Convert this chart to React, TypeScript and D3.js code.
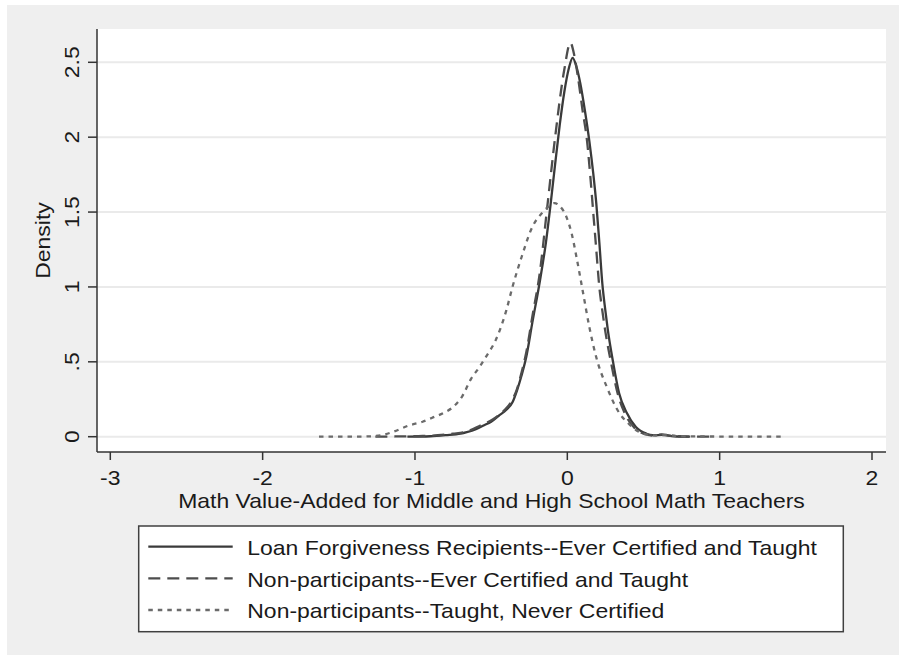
import React from "react";
import * as d3 from "d3";

// ---- Data ----
const X_TICKS = [-3, -2, -1, 0, 1, 2];
const Y_TICKS = [0, 0.5, 1, 1.5, 2, 2.5];
const Y_TICK_LABELS = ["0", ".5", "1", "1.5", "2", "2.5"];

const SERIES_NAMES = [
  "Loan Forgiveness Recipients--Ever Certified and Taught",
  "Non-participants--Ever Certified and Taught",
  "Non-participants--Taught, Never Certified",
];

// Loan forgiveness recipients (solid)
const recipX = [-1.05, -0.9, -0.8, -0.7, -0.66, -0.6, -0.55, -0.5, -0.45, -0.4, -0.36, -0.33, -0.3, -0.27, -0.23, -0.18, -0.14, -0.11, -0.08, -0.05, -0.02, 0.01, 0.035, 0.06, 0.085, 0.115, 0.145, 0.17, 0.19, 0.21, 0.23, 0.25, 0.265, 0.3, 0.34, 0.39, 0.45, 0.52, 0.56, 0.62, 0.7, 0.8];
const recipY = [0, 0.003, 0.01, 0.02, 0.03, 0.05, 0.075, 0.1, 0.14, 0.18, 0.23, 0.31, 0.41, 0.53, 0.76, 1.04, 1.3, 1.55, 1.82, 2.08, 2.3, 2.46, 2.53, 2.47, 2.36, 2.18, 1.97, 1.76, 1.56, 1.3, 1.02, 0.84, 0.72, 0.5, 0.29, 0.16, 0.065, 0.02, 0.01, 0.012, 0.003, 0];

// Non-participants, ever certified and taught (dashed)
const certX = [-1.26, -1.1, -0.95, -0.85, -0.75, -0.66, -0.58, -0.49, -0.42, -0.37, -0.33, -0.3, -0.27, -0.23, -0.18, -0.13, -0.08, -0.02, 0.02, 0.045, 0.07, 0.1, 0.13, 0.15, 0.17, 0.19, 0.21, 0.23, 0.25, 0.29, 0.33, 0.38, 0.44, 0.5, 0.56, 0.62, 0.68, 0.8, 0.93];
const certY = [0, 0.002, 0.005, 0.01, 0.02, 0.035, 0.07, 0.115, 0.17, 0.23, 0.32, 0.43, 0.56, 0.8, 1.1, 1.55, 2.0, 2.45, 2.63, 2.55, 2.4, 2.18, 1.97, 1.75, 1.5, 1.25, 1.0, 0.84, 0.7, 0.48, 0.29, 0.15, 0.06, 0.02, 0.008, 0.015, 0.006, 0.001, 0];

// Non-participants, taught, never certified (dotted)
const neverX = [-1.63, -1.45, -1.3, -1.22, -1.15, -1.04, -0.95, -0.89, -0.8, -0.76, -0.69, -0.63, -0.58, -0.53, -0.47, -0.4, -0.36, -0.3, -0.23, -0.16, -0.12, -0.085, -0.05, -0.007, 0.03, 0.06, 0.1, 0.145, 0.19, 0.26, 0.34, 0.4, 0.45, 0.52, 0.58, 0.65, 0.72, 0.85, 1.0, 1.2, 1.43];
const neverY = [0, 0, 0.002, 0.01, 0.03, 0.075, 0.1, 0.125, 0.165, 0.19, 0.27, 0.39, 0.46, 0.54, 0.645, 0.845, 1.0, 1.2, 1.4, 1.5, 1.54, 1.56, 1.54, 1.47, 1.35, 1.2, 0.98, 0.73, 0.53, 0.33, 0.16, 0.09, 0.045, 0.015, 0.008, 0.012, 0.004, 0.002, 0.001, 0, 0];

// ---- Layout / style ----
const W = 899;
const H = 658;
const PLOT = { left: 97, right: 886, top: 29, bottom: 452 };
const FONT = "'Liberation Sans', Arial, Helvetica, sans-serif";
const FS = 20.5;
const SX = 1.12;

const STYLES = [
  { color: "#3a3a3a", dash: "none", width: 2.3 },
  { color: "#4d4d4d", dash: "12,7", width: 2.3 },
  { color: "#6b6b6b", dash: "4.5,5", width: 2.3 },
];

const xScale = d3.scaleLinear().domain([-3, 2]).range([110.3, 872]);
const yScale = d3.scaleLinear().domain([0, 2.5]).range([436.7, 62.3]);

const line = d3
  .line<[number, number]>()
  .x((d) => xScale(d[0]))
  .y((d) => yScale(d[1]))
  .curve(d3.curveMonotoneX);

function zip(xs: number[], ys: number[]): [number, number][] {
  return xs.map((x, i) => [x, ys[i]]);
}

const SERIES = [zip(recipX, recipY), zip(certX, certY), zip(neverX, neverY)];

function T({
  x,
  y,
  rotate = 0,
  anchor = "middle",
  children,
  fill = "#1a1a1a",
}: {
  x: number;
  y: number;
  rotate?: number;
  anchor?: string;
  children: React.ReactNode;
  fill?: string;
}) {
  return (
    <text
      transform={`translate(${x},${y}) rotate(${rotate}) scale(${SX},1)`}
      textAnchor={anchor as any}
      fontFamily={FONT}
      fontSize={FS}
      fill={fill}
    >
      {children}
    </text>
  );
}

export default function App() {
  const legendTop = 526;
  const legendRows = [546.7, 578.3, 610];
  return (
    <svg
      width={W}
      height={H}
      style={{ position: "absolute", left: 0, top: 0, display: "block" }}
    >
      <rect x={0} y={0} width={W} height={H} fill="#ffffff" />
      <rect x={7} y={5} width={W - 7} height={650} fill="#efefef" />
      <rect
        x={PLOT.left}
        y={PLOT.top}
        width={PLOT.right - PLOT.left}
        height={PLOT.bottom - PLOT.top}
        fill="#ffffff"
      />
      {/* grid */}
      {Y_TICKS.map((t) => (
        <line
          key={"g" + t}
          x1={PLOT.left}
          x2={PLOT.right}
          y1={yScale(t)}
          y2={yScale(t)}
          stroke="#eaeaea"
          strokeWidth={2}
        />
      ))}
      {/* series */}
      {SERIES.map((s, i) => (
        <path
          key={"s" + i}
          d={line(s) || ""}
          fill="none"
          stroke={STYLES[i].color}
          strokeWidth={STYLES[i].width}
          strokeDasharray={STYLES[i].dash}
          strokeLinejoin="round"
        />
      ))}
      {/* axes */}
      <line x1={PLOT.left} x2={PLOT.left} y1={PLOT.top} y2={PLOT.bottom} stroke="#333" strokeWidth={1.5} />
      <line x1={PLOT.left} x2={PLOT.right} y1={PLOT.bottom} y2={PLOT.bottom} stroke="#333" strokeWidth={1.5} />
      {Y_TICKS.map((t, i) => (
        <g key={"yt" + t}>
          <line x1={PLOT.left - 9} x2={PLOT.left} y1={yScale(t)} y2={yScale(t)} stroke="#333" strokeWidth={1.5} />
          <T x={79} y={yScale(t)} rotate={-90}>
            {Y_TICK_LABELS[i]}
          </T>
        </g>
      ))}
      {X_TICKS.map((t) => (
        <g key={"xt" + t}>
          <line x1={xScale(t)} x2={xScale(t)} y1={PLOT.bottom} y2={PLOT.bottom + 8} stroke="#333" strokeWidth={1.5} />
          <T x={xScale(t)} y={485}>
            {String(t)}
          </T>
        </g>
      ))}
      <T x={50} y={(PLOT.top + PLOT.bottom) / 2} rotate={-90}>
        Density
      </T>
      <T x={(PLOT.left + PLOT.right) / 2} y={507.5}>
        Math Value-Added for Middle and High School Math Teachers
      </T>
      {/* legend */}
      <rect
        x={138.7}
        y={legendTop}
        width={843.3 - 138.7}
        height={631.7 - legendTop}
        fill="#ffffff"
        stroke="#404040"
        strokeWidth={1.5}
      />
      {SERIES_NAMES.map((name, i) => (
        <g key={"l" + i}>
          <line
            x1={148.3}
            x2={232.7}
            y1={legendRows[i]}
            y2={legendRows[i]}
            stroke={STYLES[i].color}
            strokeWidth={STYLES[i].width}
            strokeDasharray={STYLES[i].dash}
          />
          <T x={247.3} y={legendRows[i] + 8.3} anchor="start">
            {name}
          </T>
        </g>
      ))}
    </svg>
  );
}
